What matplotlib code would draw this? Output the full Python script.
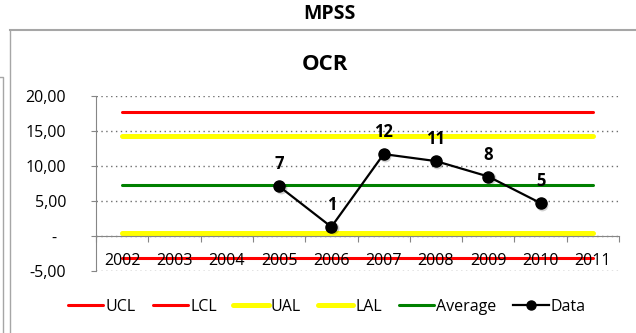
import matplotlib
matplotlib.use("Agg")
import matplotlib.pyplot as plt
from matplotlib.lines import Line2D
from matplotlib.transforms import ScaledTranslation
from matplotlib.ticker import FixedLocator

plt.rcParams["font.family"] = ["Open Sans", "DejaVu Sans"]

# ── data ────────────────────────────────────────────────────
years = [2002, 2003, 2004, 2005, 2006, 2007, 2008, 2009, 2010, 2011]
data_years = [2005, 2006, 2007, 2008, 2009, 2010]
data_values = [7.1, 1.3, 11.7, 10.7, 8.5, 4.7]

UCL = 17.7
UAL = 14.3
AVERAGE = 7.3
LAL = 0.4
LCL = -3.2

y_ticks = [-5, 0, 5, 10, 15, 20]
y_labels = ["-5,00", "-\u2007", "5,00", "10,00", "15,00", "20,00"]

# ── figure ──────────────────────────────────────────────────
W, H = 636, 333
fig = plt.figure(figsize=(W / 100, H / 100), dpi=100)
ax = fig.add_axes([96 / W, 62 / H, 523 / W, 175 / H])

x_all = list(range(len(years)))
x_data = [years.index(y) for y in data_years]

RED, YELLOW, GREEN = "#FF0000", "#FFFF00", "#008000"

ax.plot(x_all, [UCL] * len(years), color=RED, lw=2.2, solid_capstyle="round", label="UCL", zorder=2)
ax.plot(x_all, [LCL] * len(years), color=RED, lw=2.2, solid_capstyle="round", label="LCL", zorder=2)
ax.plot(x_all, [UAL] * len(years), color=YELLOW, lw=3.6, solid_capstyle="round", label="UAL", zorder=2)
ax.plot(x_all, [LAL] * len(years), color=YELLOW, lw=3.6, solid_capstyle="round", label="LAL", zorder=2)
ax.plot(x_all, [AVERAGE] * len(years), color=GREEN, lw=2.2, solid_capstyle="round", label="Average", zorder=2)

# data series: soft marker shadow, then line and markers
shadow = ax.transData + ScaledTranslation(1.5 / 100, -1.5 / 100, fig.dpi_scale_trans)
ax.plot(x_data, data_values, lw=0, marker="o", markersize=8.5, color="#000000", alpha=0.18,
        markeredgewidth=0, transform=shadow, zorder=3.5)
ax.plot(x_data, data_values, color="black", lw=1.6, marker="o", markersize=8, zorder=4)
data_handle = Line2D([], [], color="black", lw=1.6, marker="o", markersize=6.5)

for xi, v in zip(x_data, data_values):
    ax.annotate(f"{v:.0f}", (xi, v), xytext=(0, 22), textcoords="offset pixels",
                ha="center", va="center", fontsize=12, fontweight="bold", zorder=6)

# ── axes ────────────────────────────────────────────────────
AXIS_GRAY = "#868686"
ax.set_xlim(-0.5, len(years) - 0.5)
ax.set_ylim(-5, 20)

ax.spines["top"].set_visible(False)
ax.spines["right"].set_visible(False)
ax.spines["left"].set_color(AXIS_GRAY)
ax.spines["bottom"].set_color(AXIS_GRAY)
ax.spines["bottom"].set_position(("data", 0))

ax.xaxis.set_major_locator(FixedLocator([i - 0.5 for i in range(len(years) + 1)]))
ax.xaxis.set_minor_locator(FixedLocator(x_all))
ax.set_xticklabels([])
ax.set_xticklabels([str(y) for y in years], minor=True)
ax.tick_params(axis="x", which="major", direction="out", length=4.5, color=AXIS_GRAY)
ax.tick_params(axis="x", which="minor", length=0, pad=12.5, labelsize=11.5)
ax.xaxis.set_zorder(3)

ax.set_yticks(y_ticks)
ax.set_yticklabels(y_labels)
ax.tick_params(axis="y", direction="out", length=3.6, color=AXIS_GRAY, pad=18, labelsize=11.5)
ax.yaxis.grid(True, color="#6E6E6E", lw=1, linestyle=(0, (1, 2.5)))

# ── legend ──────────────────────────────────────────────────
handles, labels = ax.get_legend_handles_labels()
handles.append(data_handle)
labels.append("Data")
fig.legend(handles, labels, loc="center", bbox_to_anchor=(327 / W, 1 - 307 / H), ncol=6,
           frameon=False, fontsize=11.5, handlelength=2.2, handletextpad=0.15,
           columnspacing=1.05, borderpad=0)

# ── titles and frame ────────────────────────────────────────
fig.text(329 / W, 1 - 14 / H, "MPSS", ha="center", va="center", fontsize=14, fontweight="bold")
fig.text(325 / W, 1 - 64 / H, "OCR", ha="center", va="center", fontsize=16, fontweight="bold")

FRAME = "#A6A6A6"
fig.add_artist(Line2D([10 / W, 1], [1 - 29.5 / H] * 2, color=FRAME, lw=1.5, transform=fig.transFigure))
fig.add_artist(Line2D([10 / W] * 2, [0, 1 - 29.5 / H], color=FRAME, lw=1, transform=fig.transFigure))
fig.add_artist(Line2D([0, 3 / W, 3 / W], [1 - 77 / H, 1 - 77 / H, 0], color=FRAME, lw=1,
                      transform=fig.transFigure))

fig.savefig("out.png", dpi=100)
